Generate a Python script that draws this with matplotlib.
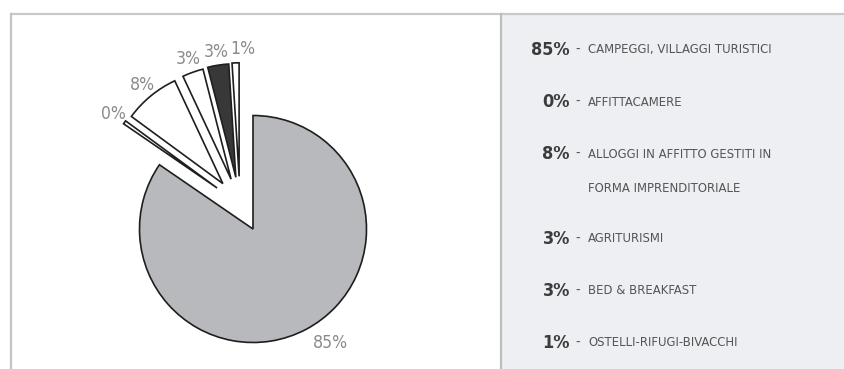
import matplotlib
matplotlib.use("Agg")
import numpy as np
import matplotlib.pyplot as plt
from matplotlib import font_manager
from matplotlib.patches import Rectangle
from matplotlib.lines import Line2D

# Share of tourist beds by accommodation type
categories = [
    "CAMPEGGI, VILLAGGI TURISTICI",
    "AFFITTACAMERE",
    "ALLOGGI IN AFFITTO GESTITI IN\nFORMA IMPRENDITORIALE",
    "AGRITURISMI",
    "BED & BREAKFAST",
    "OSTELLI-RIFUGI-BIVACCHI",
]
shares = [85, 0.5, 8, 3, 3, 1]
slice_colors = ["#b7b9bc", "#ffffff", "#ffffff", "#ffffff", "#383838", "#ffffff"]
pull_out = [0, 0.48, 0.48, 0.48, 0.48, 0.48]


def narrow_font():
    for fam, stretch in [("Liberation Sans Narrow", "normal"),
                         ("DejaVu Sans", "condensed")]:
        try:
            fp = font_manager.FontProperties(family=fam, stretch=stretch)
            path = font_manager.findfont(fp, fallback_to_default=False)
            if stretch == "normal" or "ondensed" in path:
                return dict(family=fam, stretch=stretch)
        except Exception:
            pass
    return dict(family="DejaVu Sans")


NARROW = narrow_font()

W, H = 845, 369
DPI = 100
fig = plt.figure(figsize=(W / DPI, H / DPI), dpi=DPI)
fig.patch.set_facecolor("white")

# Background axes in pixel coordinates: panels and legend text
bg = fig.add_axes([0, 0, 1, 1], zorder=0)
bg.set_xlim(0, W)
bg.set_ylim(H, 0)
bg.set_axis_off()

bg.add_patch(Rectangle((501, 14), W - 501, H - 14, facecolor="#edeff2", edgecolor="none"))
bg.add_line(Line2D([11, W], [14, 14], color="#c9c9c9", lw=1.6))
bg.add_line(Line2D([11, 11], [14, H], color="#c4c4c4", lw=1.6))
bg.add_line(Line2D([501, 501], [14, H], color="#bdbdbd", lw=1.6))

total = sum(shares)
y = 50
for value, label in zip(shares, categories):
    pct = round(100 * value / total)
    bg.text(570, y, f"{pct}%", ha="right", va="center", fontsize=13,
            fontweight="bold", color="#3c3c3c", **NARROW)
    bg.text(578, y, "-", ha="center", va="center", fontsize=10,
            color="#555555", **NARROW)
    lines = label.split("\n")
    for j, line in enumerate(lines):
        bg.text(588, y + 34 * j, line, ha="left", va="center", fontsize=9.4,
                color="#555555", **NARROW)
    y += 52 + 33 * (len(lines) - 1)

# Pie axes laid over the whole figure, R px per data unit
R = 113.5
cx, cy = 253.0, 229.0
ax = fig.add_axes([0, 0, 1, 1], zorder=1)
ax.patch.set_alpha(0)
wedges, _ = ax.pie(
    shares,
    colors=slice_colors,
    startangle=90,
    counterclock=False,
    wedgeprops=dict(edgecolor="#1e1e1e", linewidth=1.2),
)
ax.set_xlim(-cx / R, (W - cx) / R)
ax.set_ylim(-(H - cy) / R, cy / R)
ax.set_aspect("equal", adjustable="datalim")
ax.set_axis_off()

# The small slices are pulled out together, each leaning toward the
# middle of the group.
small = [i for i, d in enumerate(pull_out) if d > 0]
group_mid = 0.5 * (min(wedges[i].theta1 for i in small) + max(wedges[i].theta2 for i in small))
pct_labels = []
for i, (w, value) in enumerate(zip(wedges, shares)):
    mid = 0.5 * (w.theta1 + w.theta2)
    if pull_out[i] > 0:
        direction = np.radians(0.5 * (mid + group_mid))
        w.set_center((pull_out[i] * np.cos(direction), pull_out[i] * np.sin(direction)))
        dist, ha = 1.12, "center"
    else:
        dist, ha = 1.14, "left"
    ox, oy = w.center
    m = np.radians(mid)
    t = ax.text(ox + dist * np.cos(m), oy + dist * np.sin(m),
                f"{round(100 * value / total)}%", ha=ha, va="center",
                fontsize=12.6, color="#8a8a8a", **NARROW)
    pct_labels.append(t)

# Push crowded labels of the small slices apart, left to right
fig.canvas.draw()
renderer = fig.canvas.get_renderer()
ordered = sorted((pct_labels[i] for i in small),
                 key=lambda t: t.get_window_extent(renderer).x0)
for left, right in zip(ordered[:-1], ordered[1:]):
    gap = right.get_window_extent(renderer).x0 - left.get_window_extent(renderer).x1
    if gap < 2:
        x, yy = right.get_position()
        right.set_position((x + (2 - gap) / R, yy))

fig.savefig("out.png", dpi=DPI)
